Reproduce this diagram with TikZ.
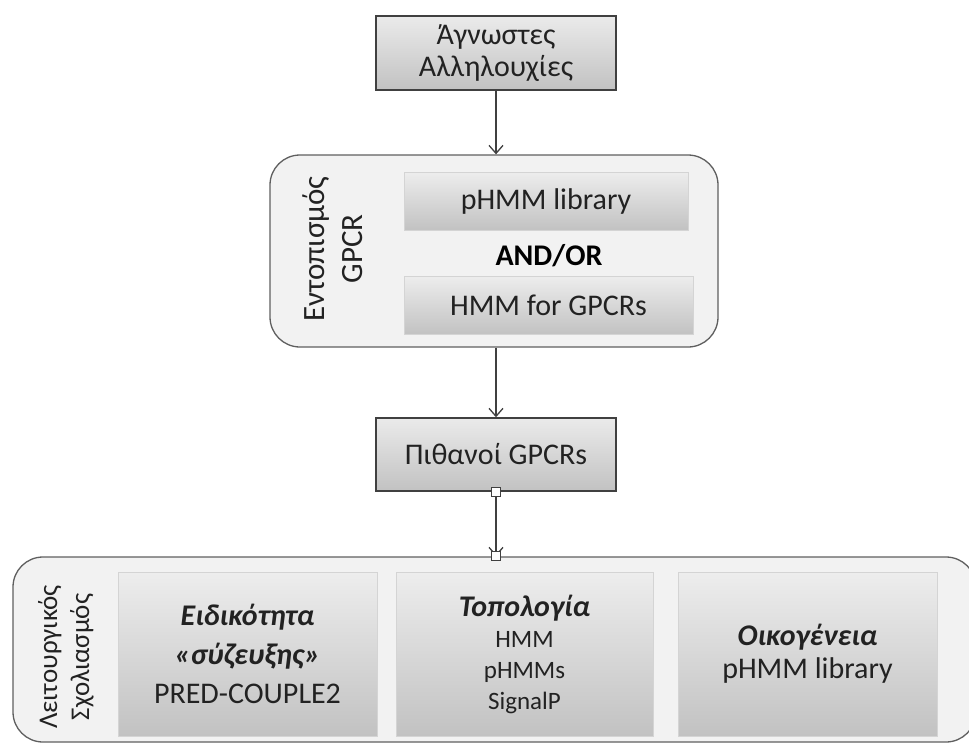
\documentclass[tikz,border=0pt]{standalone}
\usepackage{fontspec}
\setmainfont{Carlito}
\usetikzlibrary{arrows.meta}
\definecolor{txt}{HTML}{222222}
\definecolor{frame}{HTML}{404040}
\definecolor{panel}{HTML}{F2F2F2}
\definecolor{panelline}{HTML}{5F5F5F}
\definecolor{cellline}{HTML}{D4D4D4}
\tikzset{
  every node/.style={text=txt, font=\fontsize{30}{36}\selectfont},
  stagebox/.style={draw=frame, line width=1.4pt, top color=white!92!black, bottom color=white!76!black,
    minimum width=240pt, minimum height=74pt, inner sep=0pt, align=center},
  panelbox/.style={draw=panelline, line width=1.3pt, fill=panel, rounded corners=30pt, inner sep=0pt},
  cellbox/.style={draw=cellline, line width=1pt, top color=white!93!black, bottom color=white!76!black,
    inner sep=0pt, align=center},
  sidelabel/.style={rotate=90, align=center},
  arr/.style={draw=frame, line width=1.3pt, -{Straight Barb[length=8pt,width=14pt,line width=1.3pt]}},
  handle/.style={draw=frame, line width=0.8pt, fill=white, minimum size=9pt, inner sep=0pt}
}
\begin{document}
\begin{tikzpicture}[x=1pt, y=-1pt]
\useasboundingbox (0,0) rectangle (969,744);
\clip (0,0) rectangle (969,744);

% input sequences
\node[stagebox, font=\fontsize{30}{32}\selectfont] (seq) at (496,53) {Άγνωστες\\Αλληλουχίες};

% GPCR detection panel
\node[panelbox, minimum width=448pt, minimum height=192pt] (det) at (494,251) {};
\node[sidelabel, font=\fontsize{31}{38}\selectfont] (detlabel) at (333,249) {Εντοπισμός\\GPCR};
\node[cellbox, minimum width=284pt, minimum height=58pt] (lib) at (546,201) {pHMM library};
\node[font=\fontsize{30}{36}\selectfont\bfseries, text=black] (andor) at (549,256) {AND/OR};
\node[cellbox, minimum width=289pt, minimum height=58pt] (hmm) at (548.5,305) {HMM for GPCRs};

% candidate receptors
\node[stagebox, minimum height=73pt] (cand) at (496,454.5) {Πιθανοί GPCRs};

% functional annotation panel (runs past the right edge)
\node[panelbox, minimum width=963pt, minimum height=185pt] (ann) at (494.5,649.5) {};
\node[sidelabel, font=\fontsize{27}{32}\selectfont] (annlabel) at (66,657) {Λειτουργικός\\Σχολιασμός};
\node[cellbox, minimum width=259pt, minimum height=164pt, font=\fontsize{30}{39}\selectfont] (coup) at (247.5,654)
  {\textbf{\textit{Ειδικότητα}}\\\textbf{\textit{«σύζευξης»}}\\PRED-COUPLE2};
\node[cellbox, minimum width=257pt, minimum height=164pt, font=\fontsize{25}{31}\selectfont] (topo) at (524.5,654)
  {{\fontsize{30}{31}\selectfont\textbf{\textit{Τοπολογία}}}\\HMM\\pHMMs\\SignalP};
\node[cellbox, minimum width=259pt, minimum height=164pt, font=\fontsize{30}{33}\selectfont] (fam) at (807.5,654)
  {\textbf{\textit{Οικογένεια}}\\pHMM library};

% connectors
\draw[arr] (seq.south) -- (seq.south |- det.north);
\draw[arr] (seq.south |- det.south) -- (cand.north);
\coordinate (annin) at (cand.south |- ann.north);
\draw[arr] (cand.south) -- (annin);
\node[handle] (h1) at (cand.south) {};
\node[handle] (h2) at (annin) {};
\end{tikzpicture}
\end{document}
